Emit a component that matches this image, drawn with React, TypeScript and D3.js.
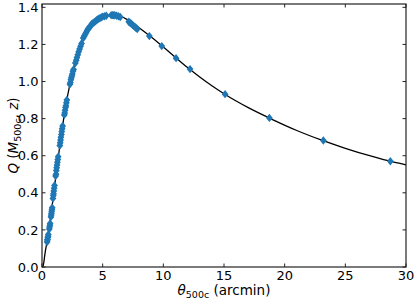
import React from "react";
import * as d3 from "d3";

// curve Q(theta)
const curveTheta = [0, 0.08, 0.15, 0.22, 0.3, 0.4, 0.5, 0.6, 0.8, 1.0, 1.2, 1.4, 1.6, 1.8, 2.0, 2.3, 2.6, 3.0, 3.5, 4.0, 4.5, 5.0, 5.5, 6.0, 6.5, 7.0, 7.5, 8.0, 9.0, 10, 11, 12, 13, 14, 15, 17, 19, 21, 23, 25, 27, 29, 30];
const curveQ = [0, 0.003, 0.025, 0.06, 0.095, 0.13, 0.17, 0.215, 0.31, 0.415, 0.52, 0.62, 0.715, 0.805, 0.885, 0.985, 1.07, 1.17, 1.25, 1.3, 1.332, 1.35, 1.357, 1.358, 1.351, 1.335, 1.314, 1.29, 1.24, 1.186, 1.13, 1.075, 1.024, 0.977, 0.934, 0.859, 0.795, 0.736, 0.685, 0.64, 0.6, 0.565, 0.551];

// cluster sample points (theta [arcmin], Q)
const pointTheta = [
  0.42, 0.44, 0.46, 0.48, 0.5, 0.52,
  0.6, 0.62, 0.65, 0.67,
  0.74, 0.76, 0.78, 0.8, 0.82, 0.84,
  0.9, 0.93, 0.95, 0.97, 1.0, 1.03,
  1.12, 1.15, 1.18, 1.21, 1.24, 1.27, 1.3, 1.33,
  1.47, 1.5, 1.53, 1.56, 1.6, 1.63, 1.66, 1.7,
  1.84, 1.87, 1.9, 1.94, 1.97, 2.01, 2.05,
  2.3, 2.34, 2.38, 2.42, 2.46, 2.5, 2.55, 2.6,
  2.75, 2.82, 2.88, 2.95, 3.02, 3.1, 3.18, 3.26,
  3.4, 3.48, 3.56, 3.64, 3.72, 3.8, 3.9, 4.0, 4.1, 4.2, 4.3, 4.4, 4.5, 4.6, 4.7, 4.8, 4.9, 5.0, 5.15, 5.3,
  5.7, 5.8, 5.9, 6.0, 6.15, 6.3, 6.45,
  7.15, 7.25, 7.35, 7.45, 7.55, 7.65, 7.75, 7.85,
  8.85, 9.87, 11.05, 12.2, 15.09, 18.74, 23.19, 28.71,
];
const pointQ = [
  0.135, 0.145, 0.15, 0.16, 0.165, 0.175,
  0.205, 0.215, 0.225, 0.235,
  0.27, 0.28, 0.29, 0.3, 0.31, 0.32,
  0.37, 0.385, 0.395, 0.41, 0.425, 0.44,
  0.49, 0.5, 0.52, 0.535, 0.55, 0.565, 0.58, 0.595,
  0.655, 0.67, 0.685, 0.7, 0.715, 0.73, 0.745, 0.76,
  0.82, 0.83, 0.845, 0.86, 0.87, 0.885, 0.9,
  0.985, 0.995, 1.01, 1.02, 1.03, 1.04, 1.055, 1.065,
  1.1, 1.115, 1.13, 1.145, 1.16, 1.175, 1.19, 1.205,
  1.235, 1.245, 1.255, 1.265, 1.275, 1.285, 1.29, 1.3, 1.31, 1.315, 1.32, 1.325, 1.33, 1.335, 1.34, 1.343, 1.346, 1.35, 1.352, 1.355,
  1.358, 1.358, 1.357, 1.357, 1.355, 1.352, 1.348,
  1.322, 1.317, 1.312, 1.306, 1.3, 1.295, 1.289, 1.283,
  1.245, 1.191, 1.126, 1.067, 0.932, 0.804, 0.682, 0.57,
];

const xTicks = [0, 5, 10, 15, 20, 25, 30];
const yTicks = [0, 0.2, 0.4, 0.6, 0.8, 1.0, 1.2, 1.4];

const W = 415;
const H = 300;
const margin = { left: 42, right: 9, top: 4, bottom: 33 };
const font = "DejaVu Sans";

export default function App() {
  const x = d3.scaleLinear().domain([0, 30]).range([margin.left, W - margin.right]);
  const y = d3.scaleLinear().domain([0, 1.418]).range([H - margin.bottom, margin.top]);

  const curve = curveTheta.map((t, i) => [t, curveQ[i]] as [number, number]);
  const line = d3
    .line<[number, number]>()
    .x((d) => x(d[0]))
    .y((d) => y(d[1]))
    .curve(d3.curveMonotoneX);

  const tick = 3.5;
  const diamond = (cx: number, cy: number) => {
    const hw = 3.4;
    const hh = 4.2;
    return `M${cx},${cy - hh}L${cx + hw},${cy}L${cx},${cy + hh}L${cx - hw},${cy}Z`;
  };

  const x0 = x(0);
  const x1 = x(30);
  const y0 = y.range()[0];
  const y1 = y.range()[1];

  return (
    <svg width={W} height={H} style={{ position: "absolute", left: 0, top: 0 }} fontFamily={font}>
      <rect width={W} height={H} fill="#fff" />
      <path d={line(curve) || ""} fill="none" stroke="#000" strokeWidth={1.3} />
      {pointTheta.map((t, i) => (
        <path key={i} d={diamond(x(t), y(pointQ[i]))} fill="#1f77b4" />
      ))}

      {/* frame */}
      <rect x={x0} y={y1} width={x1 - x0} height={y0 - y1} fill="none" stroke="#222" strokeWidth={1.2} />

      {xTicks.map((t) => (
        <g key={t}>
          <line x1={x(t)} x2={x(t)} y1={y0} y2={y0 - tick} stroke="#222" strokeWidth={1} />
          <line x1={x(t)} x2={x(t)} y1={y1} y2={y1 + tick} stroke="#222" strokeWidth={1} />
          <text x={x(t)} y={y0 + 13} textAnchor="middle" fontSize={13}>
            {t}
          </text>
        </g>
      ))}
      {yTicks.map((t) => (
        <g key={t}>
          <line x1={x0} x2={x0 + tick} y1={y(t)} y2={y(t)} stroke="#222" strokeWidth={1} />
          <line x1={x1} x2={x1 - tick} y1={y(t)} y2={y(t)} stroke="#222" strokeWidth={1} />
          <text x={x0 - 3.5} y={y(t) + 4.6} textAnchor="end" fontSize={13}>
            {t.toFixed(1)}
          </text>
        </g>
      ))}

      <text x={(x0 + x1) / 2} y={H - 5} textAnchor="middle" fontSize={13.5}>
        <tspan fontStyle="italic">θ</tspan>
        <tspan fontSize={9.5} dy={3}>500c</tspan>
        <tspan dy={-3}> (arcmin)</tspan>
      </text>
      <text transform={`translate(18,${(y0 + y1) / 2}) rotate(-90)`} textAnchor="middle" fontSize={13.5}>
        <tspan fontStyle="italic">Q</tspan>
        <tspan> (</tspan>
        <tspan fontStyle="italic">M</tspan>
        <tspan fontSize={9.5} dy={3}>500c</tspan>
        <tspan dy={-3}>, </tspan>
        <tspan fontStyle="italic">z</tspan>
        <tspan>)</tspan>
      </text>
    </svg>
  );
}
